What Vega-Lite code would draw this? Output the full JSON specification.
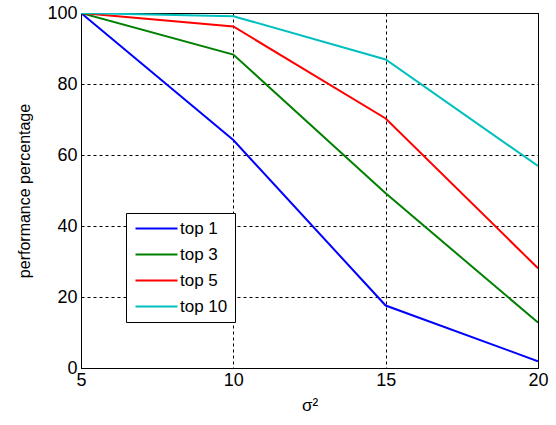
{
  "$schema": "https://vega.github.io/schema/vega-lite/v6.json",
  "width": 457,
  "height": 355,
  "autosize": {"type": "none"},
  "padding": {"left": 81, "top": 13, "right": 18, "bottom": 57},
  "background": "white",
  "config": {
    "font": "Liberation Sans",
    "view": {"stroke": "black", "strokeWidth": 1}
  },
  "data": {
    "values": [
      {"sigma2": 5, "perf": 100, "series": "top 1"},
      {"sigma2": 10, "perf": 64.2, "series": "top 1"},
      {"sigma2": 15, "perf": 17.6, "series": "top 1"},
      {"sigma2": 20, "perf": 1.9, "series": "top 1"},
      {"sigma2": 5, "perf": 100, "series": "top 3"},
      {"sigma2": 10, "perf": 88.3, "series": "top 3"},
      {"sigma2": 15, "perf": 49.2, "series": "top 3"},
      {"sigma2": 20, "perf": 12.8, "series": "top 3"},
      {"sigma2": 5, "perf": 100, "series": "top 5"},
      {"sigma2": 10, "perf": 96.2, "series": "top 5"},
      {"sigma2": 15, "perf": 70.3, "series": "top 5"},
      {"sigma2": 20, "perf": 28.1, "series": "top 5"},
      {"sigma2": 5, "perf": 100, "series": "top 10"},
      {"sigma2": 10, "perf": 99.1, "series": "top 10"},
      {"sigma2": 15, "perf": 86.9, "series": "top 10"},
      {"sigma2": 20, "perf": 56.9, "series": "top 10"}
    ]
  },
  "mark": {"type": "line", "strokeWidth": 2, "clip": true},
  "encoding": {
    "x": {
      "field": "sigma2",
      "type": "quantitative",
      "scale": {"domain": [5, 20], "nice": false, "zero": false},
      "axis": {
        "title": "σ²",
        "titleFont": "Liberation Sans",
        "titleFontSize": 17,
        "titleFontWeight": "normal",
        "titleColor": "black",
        "titlePadding": 8,
        "values": [5, 10, 15, 20],
        "labelFontSize": 18,
        "labelColor": "black",
        "labelPadding": 3,
        "labelFlush": false,
        "ticks": false,
        "domainColor": "black",
        "grid": true,
        "gridColor": "black",
        "gridDash": [3, 3],
        "gridOpacity": 1,
        "gridWidth": 1
      }
    },
    "y": {
      "field": "perf",
      "type": "quantitative",
      "scale": {"domain": [0, 100], "nice": false},
      "axis": {
        "title": "performance percentage",
        "titleFont": "Liberation Sans",
        "titleFontSize": 16,
        "titleFontWeight": "normal",
        "titleColor": "black",
        "titlePadding": 14,
        "values": [0, 20, 40, 60, 80, 100],
        "labelFontSize": 18,
        "labelColor": "black",
        "labelPadding": 4,
        "labelFlush": false,
        "ticks": false,
        "domainColor": "black",
        "grid": true,
        "gridColor": "black",
        "gridDash": [3, 3],
        "gridOpacity": 1,
        "gridWidth": 1
      }
    },
    "color": {
      "field": "series",
      "type": "nominal",
      "scale": {
        "domain": ["top 1", "top 3", "top 5", "top 10"],
        "range": ["#0000ff", "#008000", "#ff0000", "#00bfbf"]
      },
      "legend": {
        "title": null,
        "orient": "none",
        "legendX": 45,
        "legendY": 200,
        "fillColor": "white",
        "strokeColor": "black",
        "padding": 7,
        "symbolType": "M-0.857,0H5.143",
        "symbolSize": 196,
        "symbolStrokeWidth": 2,
        "labelFontSize": 17,
        "labelColor": "black",
        "labelOffset": 30,
        "rowPadding": 8
      }
    }
  }
}
